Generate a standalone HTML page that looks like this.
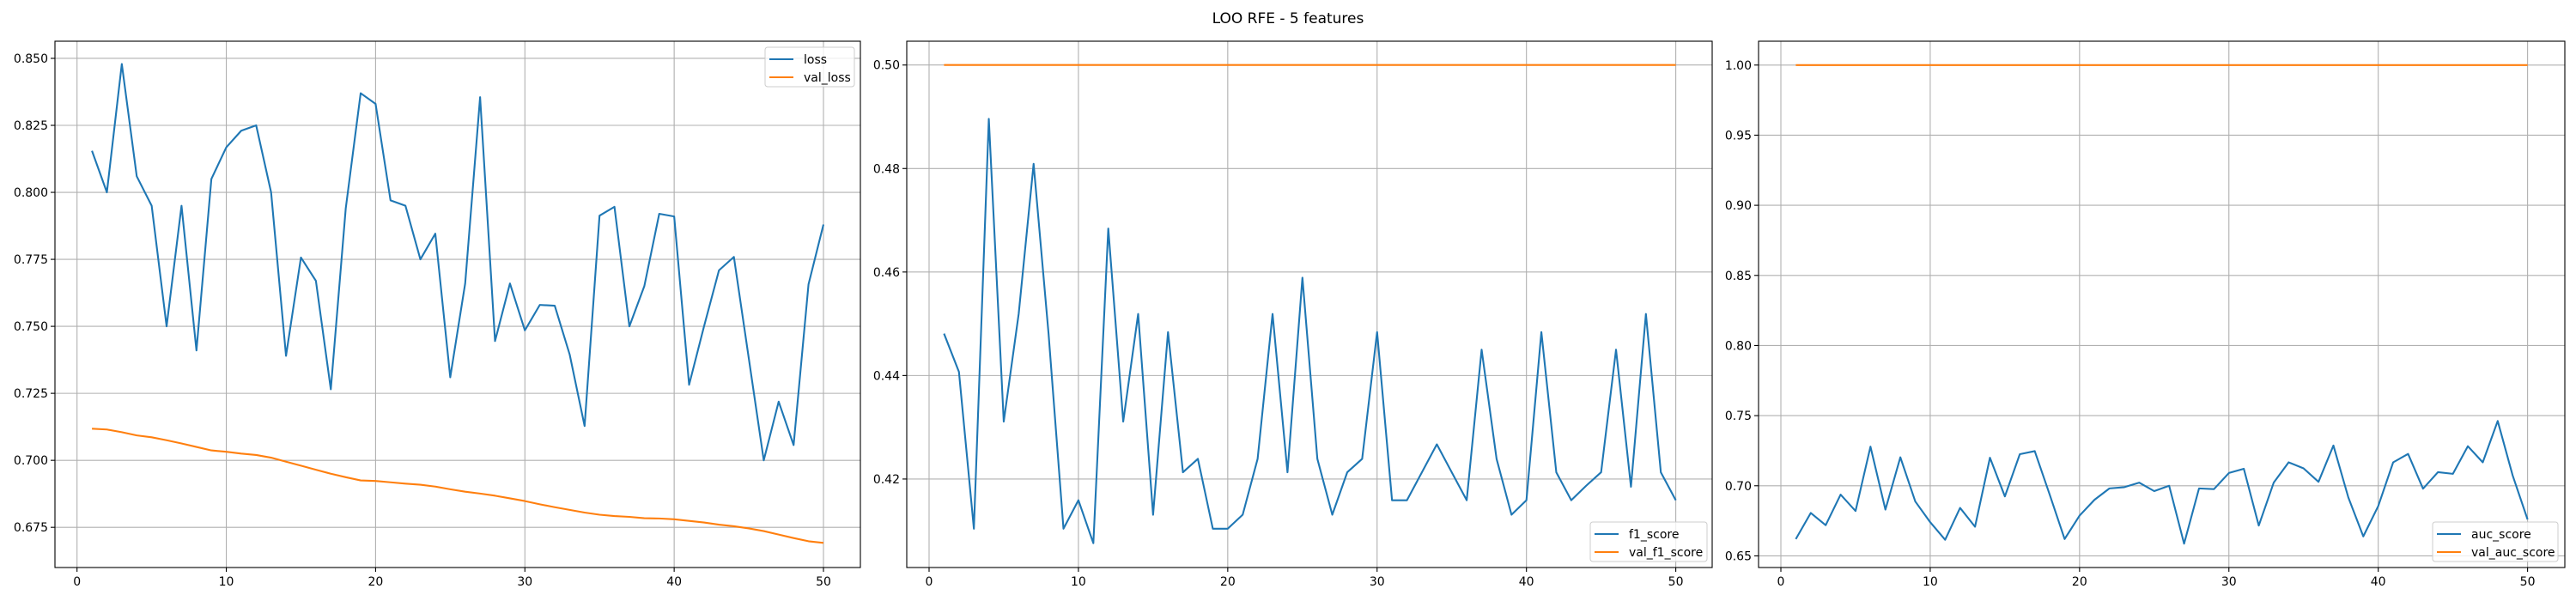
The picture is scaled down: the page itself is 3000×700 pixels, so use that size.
<!DOCTYPE html>
<html><head><meta charset="utf-8"><style>
html,body{margin:0;padding:0;background:#fff;}
svg{display:block;font-family:"DejaVu Sans","Liberation Sans",sans-serif;}
</style></head><body>
<svg id="fig" width="3000" height="700" viewBox="0 0 3000 700" xmlns="http://www.w3.org/2000/svg">
<rect width="3000" height="700" fill="#fff"/>
<text x="1500" y="27" font-size="17" text-anchor="middle" fill="#000">LOO RFE - 5 features</text>
</svg>
<script>
const epochs = Array.from({length:50},(_,i)=>i+1);
const loss = [0.8155,0.800,0.8479,0.806,0.795,0.750,0.795,0.741,0.805,0.8168,0.823,0.825,0.800,0.739,0.7757,0.767,0.7265,0.794,0.837,0.833,0.797,0.795,0.775,0.7846,0.731,0.766,0.8355,0.7445,0.766,0.7485,0.758,0.7577,0.7395,0.7128,0.7913,0.7946,0.750,0.765,0.792,0.791,0.7282,0.750,0.7709,0.7759,0.738,0.700,0.7219,0.7057,0.7657,0.788];
const valLoss = [0.7118,0.7115,0.7105,0.7093,0.7086,0.7075,0.7063,0.705,0.7037,0.7032,0.7025,0.702,0.701,0.6995,0.698,0.6965,0.695,0.6937,0.6925,0.6923,0.6918,0.6913,0.6909,0.6902,0.6892,0.6883,0.6876,0.6868,0.6858,0.6848,0.6836,0.6825,0.6815,0.6805,0.6797,0.6792,0.6789,0.6784,0.6783,0.678,0.6774,0.6768,0.676,0.6754,0.6746,0.6736,0.6723,0.671,0.6698,0.6692];
const f1 = [0.4481,0.4407,0.4104,0.4896,0.4311,0.4519,0.4809,0.4481,0.4104,0.4159,0.4076,0.4684,0.4311,0.4519,0.4131,0.4484,0.4213,0.4239,0.4104,0.4104,0.4131,0.4239,0.4519,0.4213,0.4589,0.4239,0.4131,0.4213,0.4239,0.4484,0.4159,0.4159,0.4213,0.4267,0.4213,0.4159,0.445,0.4239,0.4131,0.4159,0.4484,0.4213,0.4159,0.4187,0.4213,0.445,0.4185,0.4519,0.4213,0.4159];
const valF1 = epochs.map(()=>0.5);
const auc = [0.662,0.6806,0.6719,0.6937,0.682,0.7279,0.683,0.7203,0.6888,0.674,0.6615,0.6842,0.6708,0.72,0.6924,0.7225,0.7247,0.6937,0.662,0.6787,0.69,0.6981,0.699,0.7022,0.6962,0.7,0.6587,0.6981,0.6976,0.7091,0.7121,0.6716,0.7022,0.7167,0.7124,0.7028,0.7287,0.6916,0.6639,0.6855,0.7167,0.7227,0.6979,0.7097,0.7085,0.7282,0.7167,0.7462,0.7074,0.676];
const valAuc = epochs.map(()=>1.0);
const xTicks = [0,10,20,30,40,50];
const lossTicks = [0.675,0.700,0.725,0.750,0.775,0.800,0.825,0.850];
const f1Ticks = [0.42,0.44,0.46,0.48,0.50];
const aucTicks = [0.65,0.70,0.75,0.80,0.85,0.90,0.95,1.00];
const seriesNames = [["loss","val_loss"],["f1_score","val_f1_score"],["auc_score","val_auc_score"]];

const NS="http://www.w3.org/2000/svg";
const svg=document.getElementById('fig');
function mk(tag,attrs,parent){const e=document.createElementNS(NS,tag);for(const k in attrs)e.setAttribute(k,attrs[k]);(parent||svg).appendChild(e);return e;}

function panel(cfg){
  const g=mk('g',{});
  
  
  const L=cfg.left,R=cfg.right,T=48,B=661;
  const xs=v=>cfg.x0+(v-0)*(cfg.x50-cfg.x0)/50;
  const ys=v=>T+(cfg.ymax-v)*(B-T)/(cfg.ymax-cfg.ymin);
  // grid
  xTicks.forEach(t=>{
    const l=mk('line',{x1:xs(t),x2:xs(t),y1:T,y2:B,stroke:'#b0b0b0','stroke-width':1.1},g);
    
    
    const tk=mk('line',{x1:xs(t),x2:xs(t),y1:B,y2:B+5,stroke:'#000','stroke-width':1.1},g);
    
    
    const tx=mk('text',{x:xs(t),y:B+21,'font-size':14,'text-anchor':'middle',fill:'#000'},g);
    
    
    tx.textContent=t;
  });
  cfg.yTicks.forEach(t=>{
    const l=mk('line',{x1:L,x2:R,y1:ys(t),y2:ys(t),stroke:'#b0b0b0','stroke-width':1.1},g);
    
    
    const tk=mk('line',{x1:L-5,x2:L,y1:ys(t),y2:ys(t),stroke:'#000','stroke-width':1.1},g);
    
    
    const tx=mk('text',{x:L-8,y:ys(t)+5,'font-size':14,'text-anchor':'end',fill:'#000'},g);
    
    
    tx.textContent=t.toFixed(cfg.dec);
  });
  const cols=['#1f77b4','#ff7f0e'];
  [cfg.s1,cfg.s2].forEach((s,i)=>{
    const p=mk('polyline',{points:s.map((v,j)=>xs(epochs[j]).toFixed(2)+','+ys(v).toFixed(2)).join(' '),fill:'none',stroke:cols[i],'stroke-width':2.1,'stroke-linejoin':'round'},g);
    
    
  });
  const fr=mk('rect',{x:L,y:T,width:R-L,height:B-T,fill:'none',stroke:'#000','stroke-width':1.1},g);
  
  
  // legend
  const lg=cfg.leg;
  const lgG=mk('g',{},g);
  
  
  mk('rect',{x:lg.x,y:lg.y,width:lg.w,height:46,rx:3,fill:'#fff','fill-opacity':0.8,stroke:'#cccccc','stroke-width':1},lgG);
  cfg.names.forEach((n,i)=>{
    const yy=lg.y+14+i*21;
    const ln=mk('line',{x1:lg.x+5,x2:lg.x+33,y1:yy,y2:yy,stroke:cols[i],'stroke-width':2.1},lgG);
    
    
    const t=mk('text',{x:lg.x+45,y:yy+5,'font-size':14,fill:'#000'},lgG);
    
    
    t.textContent=n;
  });
}
panel({name:'loss',left:64,right:1002,x0:89.7,x50:959,ymin:0.660,ymax:0.8564,yTicks:lossTicks,dec:3,s1:loss,s2:valLoss,names:seriesNames[0],leg:{x:891,y:55,w:104}});
panel({name:'f1',left:1056,right:1994,x0:1082,x50:1951.6,ymin:0.4029,ymax:0.5046,yTicks:f1Ticks,dec:2,s1:f1,s2:valF1,names:seriesNames[1],leg:{x:1852,y:608,w:136}});
panel({name:'auc',left:2048,right:2987,x0:2074,x50:2943.6,ymin:0.6417,ymax:1.017,yTicks:aucTicks,dec:2,s1:auc,s2:valAuc,names:seriesNames[2],leg:{x:2833,y:608,w:146}});
</script>
</body></html>
